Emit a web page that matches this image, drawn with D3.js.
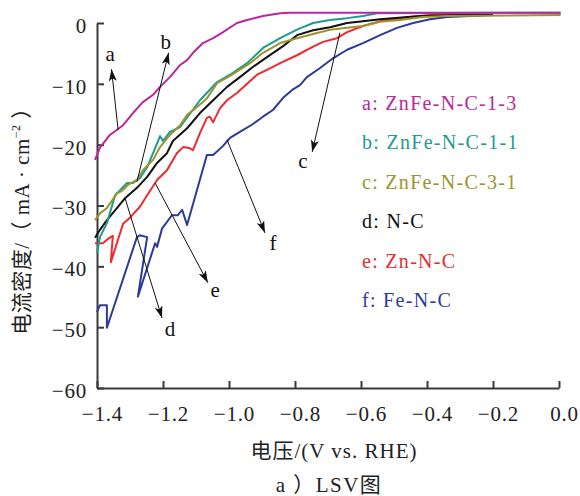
<!DOCTYPE html>
<html>
<head>
<meta charset="utf-8">
<script src="https://cdn.jsdelivr.net/npm/d3@7"></script>
<style>
  body { margin: 0; background: #fff; }
  svg text { font-family: "Times New Roman", "Liberation Serif", "DejaVu Serif", "Noto Sans CJK SC", serif; }
</style>
</head>
<body>
<svg width="580" height="496"></svg>
<script>
// LSV curves, [potential V vs RHE, current density mA/cm2]
var curveA = [[-1.406,-22.5],[-1.391,-20.5],[-1.361,-18.4],[-1.321,-16.8],[-1.291,-14.8],[-1.261,-13.0],
  [-1.230,-11.8],[-1.209,-10.5],[-1.179,-8.9],[-1.148,-6.9],[-1.127,-6.1],[-1.109,-4.9],[-1.079,-3.3],
  [-1.048,-2.5],[-1.018,-1.5],[-0.976,0],[-0.945,0.5],[-0.897,1.15],[-0.845,1.6],[-0.815,1.7],[0.005,1.7]];
var curveB = [[-1.400,-37.8],[-1.391,-35.2],[-1.370,-32.9],[-1.345,-28.3],[-1.330,-27.5],[-1.309,-26.3],
  [-1.291,-26.3],[-1.270,-25.5],[-1.248,-23.7],[-1.230,-21.4],[-1.209,-18.6],[-1.200,-19.4],[-1.179,-17.9],
  [-1.148,-17.1],[-1.088,-12.7],[-1.036,-9.7],[-0.997,-8.5],[-0.945,-6.6],[-0.897,-4.1],[-0.845,-2.5],
  [-0.794,-1.1],[-0.745,0],[-0.694,0.5],[-0.642,0.8],[-0.594,1.15],[-0.552,1.6],[0.005,1.7]];
var curveC = [[-1.406,-32.4],[-1.391,-31.3],[-1.370,-30.4],[-1.339,-28.0],[-1.324,-27.6],[-1.306,-26.6],
  [-1.279,-25.8],[-1.261,-24.2],[-1.230,-22.5],[-1.209,-20.4],[-1.179,-18.4],[-1.148,-16.8],[-1.127,-15.1],
  [-1.097,-13.8],[-1.067,-12.4],[-1.036,-9.9],[-0.997,-8.7],[-0.936,-6.6],[-0.897,-4.9],[-0.845,-3.3],
  [-0.794,-2.5],[-0.745,-1.8],[-0.694,-1.1],[-0.642,-0.8],[-0.594,-0.5],[-0.542,0.2],[-0.482,0.5],
  [-0.412,1.0],[-0.339,1.15],[0.005,1.3]];
var curveD = [[-1.406,-35.3],[-1.391,-34.0],[-1.370,-32.4],[-1.339,-30.4],[-1.315,-28.8],[-1.279,-27.1],
  [-1.248,-25.3],[-1.218,-23.0],[-1.188,-21.4],[-1.170,-19.4],[-1.127,-17.3],[-1.088,-14.8],[-1.048,-12.7],
  [-1.006,-10.5],[-0.967,-8.9],[-0.927,-7.2],[-0.885,-5.6],[-0.836,-3.8],[-0.794,-2.0],[-0.745,-1.2],
  [-0.694,-0.7],[-0.642,0],[-0.594,0.3],[-0.542,0.6],[-0.421,1.15],[-0.279,1.3],[-0.200,1.3]];
var curveE = [[-1.406,-36.2],[-1.382,-36.2],[-1.367,-35.5],[-1.352,-35.0],[-1.358,-39.3],[-1.321,-33.0],
  [-1.300,-32.0],[-1.270,-30.2],[-1.248,-28.3],[-1.218,-25.8],[-1.188,-24.2],[-1.158,-21.4],[-1.139,-20.4],
  [-1.118,-20.6],[-1.109,-20.9],[-1.088,-18.1],[-1.067,-15.6],[-1.058,-15.4],[-1.048,-16.3],[-1.027,-14.0],
  [-1.006,-12.7],[-0.976,-11.5],[-0.945,-10.0],[-0.915,-8.5],[-0.885,-7.7],[-0.845,-6.6],[-0.794,-5.3],
  [-0.745,-3.9],[-0.715,-3.1],[-0.673,-2.5],[-0.642,-1.5],[-0.594,-0.5],[-0.542,0.3],[-0.491,0.7],
  [-0.452,1.0],[-0.391,1.3],[-0.200,1.3]];
var curveF = [[-1.400,-47.5],[-1.391,-46.4],[-1.370,-46.4],[-1.370,-50.1],[-1.279,-35.2],[-1.270,-34.9],
  [-1.248,-35.2],[-1.276,-45.0],[-1.224,-36.2],[-1.218,-36.8],[-1.203,-33.8],[-1.173,-31.6],[-1.155,-31.6],
  [-1.142,-30.7],[-1.127,-33.2],[-1.067,-21.7],[-1.048,-21.7],[-1.018,-20.2],[-0.997,-18.9],[-0.967,-17.9],
  [-0.927,-16.6],[-0.897,-15.4],[-0.867,-14.3],[-0.836,-12.3],[-0.806,-10.9],[-0.785,-10.2],[-0.764,-8.9],
  [-0.724,-7.4],[-0.685,-5.8],[-0.642,-4.4],[-0.594,-3.3],[-0.542,-2.0],[-0.491,-0.8],[-0.442,0],
  [-0.391,0.6],[-0.339,1.0],[-0.200,1.3]];

var legendLabels = ["a: ZnFe-N-C-1-3", "b: ZnFe-N-C-1-1", "c: ZnFe-N-C-3-1", "d: N-C", "e: Zn-N-C", "f: Fe-N-C"];
var colors = ["#b8289c", "#1f9a90", "#9c9430", "#111111", "#ee2a2f", "#2c3a9a"];
var xTicks = [-1.4, -1.2, -1.0, -0.8, -0.6, -0.4, -0.2, 0.0];
var yTicks = [0, -10, -20, -30, -40, -50, -60];

// arrows: [label, start, tip, label position]
var arrows = [
  ["a", [-1.336,-17.6], [-1.356,-7.6], [-1.360,-6.3]],
  ["b", [-1.279,-26.1], [-1.183,-4.9], [-1.192,-4.3]],
  ["c", [-0.664,-1.6], [-0.748,-21.2], [-0.776,-23.8]],
  ["d", [-1.315,-28.8], [-1.203,-48.5], [-1.179,-51.5]],
  ["e", [-1.224,-26.3], [-1.064,-42.7], [-1.042,-45.0]],
  ["f", [-1.006,-19.2], [-0.891,-34.5], [-0.867,-37.3]]
];

var curves = [curveA, curveB, curveC, curveD, curveE, curveF];
var drawOrder = [5, 4, 3, 1, 2, 0];

var serif = "'Times New Roman', 'Liberation Serif', 'DejaVu Serif', 'Noto Sans CJK SC', serif";

var svg = d3.select("svg");

var x = d3.scaleLinear().domain([-1.4, 0]).range([97, 559]);
var y = d3.scaleLinear().domain([-60, 0]).range([388, 23]);

var fmtX = d => (d < 0 ? "\u2212" : "") + Math.abs(d).toFixed(1);
var fmtY = d => (d < 0 ? "\u2212" : "") + Math.abs(d);

var xAxis = d3.axisBottom(x).tickValues(xTicks).tickFormat(fmtX)
  .tickSizeInner(-7).tickSizeOuter(0).tickPadding(18);
var yAxis = d3.axisLeft(y).tickValues(yTicks).tickFormat(fmtY)
  .tickSizeInner(-7).tickSizeOuter(0).tickPadding(10);

var gx = svg.append("g").attr("transform", "translate(0," + y(-60) + ")").call(xAxis);
var gy = svg.append("g").attr("transform", "translate(" + x(-1.4) + ",0)").call(yAxis);

[gx, gy].forEach(function(g) {
  g.attr("font-family", null);
  g.selectAll("path, line").attr("stroke", "#3a3a3a").attr("stroke-width", 2);
  g.selectAll("text").attr("fill", "#222").style("font-size", "21px")
    .style("letter-spacing", "0.8px")
    .style("font-family", serif);
});
gx.selectAll("text").attr("dx", 5);
gy.selectAll("text").attr("dy", "0.45em");

var line = d3.line().x(d => x(d[0])).y(d => y(d[1]));

svg.append("g").selectAll("path")
  .data(drawOrder)
  .enter()
  .append("path")
    .attr("d", i => line(curves[i]))
    .attr("fill", "none")
    .attr("stroke", i => colors[i])
    .attr("stroke-width", 2)
    .attr("stroke-linejoin", "round");

svg.append("defs").append("marker")
    .attr("id", "head")
    .attr("markerUnits", "userSpaceOnUse")
    .attr("viewBox", "0 0 12 8")
    .attr("refX", 12).attr("refY", 4)
    .attr("markerWidth", 12).attr("markerHeight", 8)
    .attr("orient", "auto")
  .append("path")
    .attr("d", "M0,0 L12,4 L0,8 L3,4 Z")
    .attr("fill", "#111");

var ann = svg.append("g");
ann.selectAll("line")
  .data(arrows)
  .enter()
  .append("line")
    .attr("x1", d => x(d[1][0])).attr("y1", d => y(d[1][1]))
    .attr("x2", d => x(d[2][0])).attr("y2", d => y(d[2][1]))
    .attr("stroke", "#111").attr("stroke-width", 1)
    .attr("marker-end", "url(#head)");

ann.selectAll("text")
  .data(arrows)
  .enter()
  .append("text")
    .text(d => d[0])
    .attr("x", d => x(d[3][0])).attr("y", d => y(d[3][1]))
    .style("text-anchor", "middle")
    .style("font-size", "21px")
    .attr("fill", "#111");

svg.append("g").selectAll("text")
  .data(legendLabels)
  .enter()
  .append("text")
    .text(d => d)
    .attr("x", 362)
    .attr("y", (d, i) => 110 + i * 39.4)
    .attr("fill", (d, i) => colors[i])
    .style("font-size", "20px")
    .style("letter-spacing", "1.3px");

var ylab = svg.append("text")
    .attr("transform", "translate(29,216) rotate(-90)")
    .style("text-anchor", "middle")
    .style("font-size", "21px")
    .style("letter-spacing", "0.5px")
    .attr("fill", "#222");
ylab.append("tspan").text("电流密度/（ mA · cm");
ylab.append("tspan").text("\u22122").attr("dy", -9).style("font-size", "12px");
ylab.append("tspan").text(" ）").attr("dy", 9);

svg.append("text")
    .text("电压/(V vs. RHE)")
    .attr("x", 334).attr("y", 458)
    .style("text-anchor", "middle")
    .style("font-size", "21px")
    .style("letter-spacing", "1px")
    .attr("fill", "#222");

svg.append("text")
    .text("a ）LSV图")
    .attr("x", 329).attr("y", 492)
    .style("text-anchor", "middle")
    .style("font-size", "21px")
    .style("letter-spacing", "1.5px")
    .attr("fill", "#222");
</script>
</body>
</html>
